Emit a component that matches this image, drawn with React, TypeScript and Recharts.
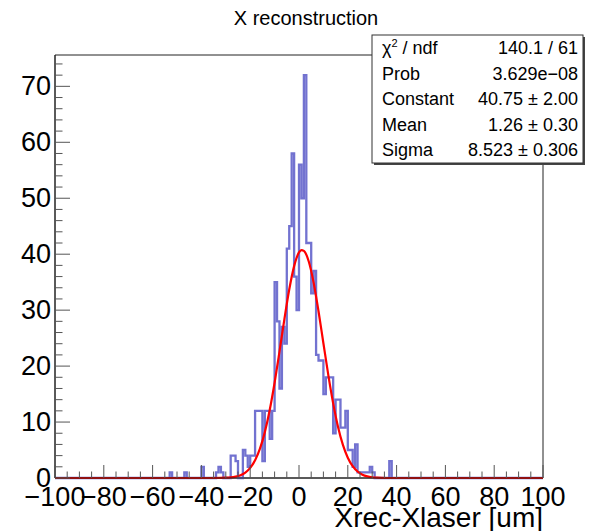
import { ComposedChart, Line, XAxis, YAxis, ReferenceArea } from "recharts";

// histogram bins (lower edge in um, width 1 um) and entries
const binLow = [
  -53, -47, -40, -34, -33, -32, -28, -27, -26, -23, -22, -21, -20, -19,
  -18, -17, -16, -15, -14, -13, -12, -11,
  -10, -9, -8, -7, -6, -5, -4, -3, -2, -1,
  0, 1, 2, 3, 4, 5, 6, 7, 8, 9,
  10, 11, 12, 13, 14, 15, 16, 17, 18, 19,
  20, 21, 22, 23, 24, 25, 26, 27, 28, 29, 30, 37,
];
const binCount = [
  1, 1, 2, 1, 2, 1, 4, 4, 3, 5, 4, 2, 4, 4,
  12, 12, 12, 3, 12, 12, 7, 12,
  35, 28, 16, 27, 24, 41, 45, 58, 36, 30,
  56, 50, 72, 42, 42, 33, 37, 22, 21, 21,
  15, 18, 18, 18, 8, 14, 14, 9, 9, 12,
  5, 5, 2, 6, 1, 1, 1, 1, 1, 2, 1, 3,
];

// gaussian fit curve
const fitX = [
  -100, -36, -32, -30, -28, -26, -24, -22, -20, -18, -16, -14, -12, -10, -8, -6, -4, -2,
  0, 1, 2, 4, 6, 8, 10, 12, 14, 16, 18, 20, 22, 24, 26, 28, 30, 32, 36, 100,
];
const fitY = [
  0, 0, 0.02, 0.05, 0.11, 0.25, 0.5, 0.98, 1.82, 3.17, 5.24, 8.2, 12.15, 17.03, 22.58, 28.35, 33.68, 37.87,
  40.31, 40.74, 40.6, 38.7, 34.91, 29.81, 24.09, 18.42, 13.33, 9.13, 5.92, 3.63, 2.11, 1.16, 0.6, 0.3, 0.14, 0.06, 0, 0,
];

const xTicks = [
  -100, -95, -90, -85, -80, -75, -70, -65, -60, -55, -50, -45, -40, -35, -30, -25, -20, -15, -10, -5,
  0, 5, 10, 15, 20, 25, 30, 35, 40, 45, 50, 55, 60, 65, 70, 75, 80, 85, 90, 95, 100,
];
const xLabels = [-100, -80, -60, -40, -20, 0, 20, 40, 60, 80, 100];
const yTicks = [
  0, 2, 4, 6, 8, 10, 12, 14, 16, 18, 20, 22, 24, 26, 28, 30, 32, 34, 36, 38,
  40, 42, 44, 46, 48, 50, 52, 54, 56, 58, 60, 62, 64, 66, 68, 70, 72, 74,
];
const yLabels = [0, 10, 20, 30, 40, 50, 60, 70];

const statNames = ["ndf", "Prob", "Constant", "Mean", "Sigma"];
const statValues = ["140.1 / 61", "3.629e\u221208", "40.75 \u00b1 2.00", "1.26 \u00b1 0.30", "8.523 \u00b1 0.306"];

const FONT = "'Liberation Sans', Arial, Helvetica, sans-serif";

const fmt = (v: number) => (v < 0 ? "\u2212" + Math.abs(v) : String(v));

// build the step table from the bins (empty bins are 0)
const histData: { x: number; n: number }[] = [];
for (let v = -100; v <= 100; v++) {
  const i = binLow.indexOf(v);
  histData.push({ x: v, n: i >= 0 ? binCount[i] : 0 });
}
const fitData = fitX.map((x, i) => ({ x, f: fitY[i] }));

function XTick(props: any) {
  const { x, y, payload } = props;
  const major = xLabels.includes(payload.value);
  return (
    <g>
      <line x1={x} x2={x} y1={y} y2={y - (major ? 13 : 6.5)} stroke="#555" strokeWidth={1} />
      {major && (
        <text x={x} y={y + 28} textAnchor="middle" fontSize={27} fontFamily={FONT} fill="#000">
          {fmt(payload.value)}
        </text>
      )}
    </g>
  );
}

function YTick(props: any) {
  const { x, y, payload } = props;
  const major = yLabels.includes(payload.value);
  return (
    <g>
      <line x1={x} x2={x + (major ? 15 : 7.5)} y1={y} y2={y} stroke="#555" strokeWidth={1} />
      {major && (
        <text x={x - 4} y={y + 9} textAnchor="end" fontSize={27} fontFamily={FONT} fill="#000">
          {payload.value}
        </text>
      )}
    </g>
  );
}

export default function App() {
  return (
    <div style={{ position: "absolute", left: 0, top: 0, width: 590, height: 531, background: "#fff" }}>
      <ComposedChart
        width={590}
        height={531}
        margin={{ top: 55, right: 47, bottom: 0, left: 0 }}
      >
        <XAxis
          type="number"
          dataKey="x"
          domain={[-100, 100]}
          ticks={xTicks}
          interval={0}
          height={53}
          tickSize={0}
          tickMargin={0}
          tickLine={false}
          axisLine={{ stroke: "#222" }}
          tick={(p: any) => <XTick {...p} />}
        />
        <YAxis
          type="number"
          domain={[0, 75.6]}
          ticks={yTicks}
          interval={0}
          width={55}
          tickSize={0}
          tickMargin={0}
          tickLine={false}
          axisLine={{ stroke: "#222" }}
          tick={(p: any) => <YTick {...p} />}
        />
        <ReferenceArea x1={-100} x2={100} y1={0} y2={75.6} fill="none" stroke="#222" strokeWidth={1} />
        <Line
          data={histData}
          dataKey="n"
          type="stepAfter"
          stroke="#7272d0"
          strokeWidth={2.3}
          dot={false}
          activeDot={false}
          isAnimationActive={false}
        />
        <Line
          data={fitData}
          dataKey="f"
          type="monotone"
          stroke="#ff0000"
          strokeWidth={2.2}
          dot={false}
          activeDot={false}
          isAnimationActive={false}
        />
      </ComposedChart>
      <svg
        width={590}
        height={531}
        style={{ position: "absolute", left: 0, top: 0, pointerEvents: "none" }}
        fontFamily={FONT}
      >
        <text x={306} y={25} textAnchor="middle" fontSize={20}>
          X reconstruction
        </text>
        <text x={543} y={527} textAnchor="end" fontSize={28}>
          Xrec-Xlaser [um]
        </text>
        <rect x={374} y={37} width={211} height={128} fill="#444" />
        <rect x={372} y={35} width={211} height={128} fill="#fff" stroke="#333" strokeWidth={1} />
        {statNames.map((name, i) => (
          <g key={name}>
            <text x={382} y={54 + i * 25.6} fontSize={18}>
              {i === 0 ? (
                <>
                  <tspan>{"\u03c7"}</tspan>
                  <tspan dy={-7} fontSize={11}>2</tspan>
                  <tspan dy={7}>{" / " + name}</tspan>
                </>
              ) : (
                name
              )}
            </text>
            <text x={578} y={54 + i * 25.6} fontSize={18} textAnchor="end">
              {statValues[i]}
            </text>
          </g>
        ))}
      </svg>
    </div>
  );
}
